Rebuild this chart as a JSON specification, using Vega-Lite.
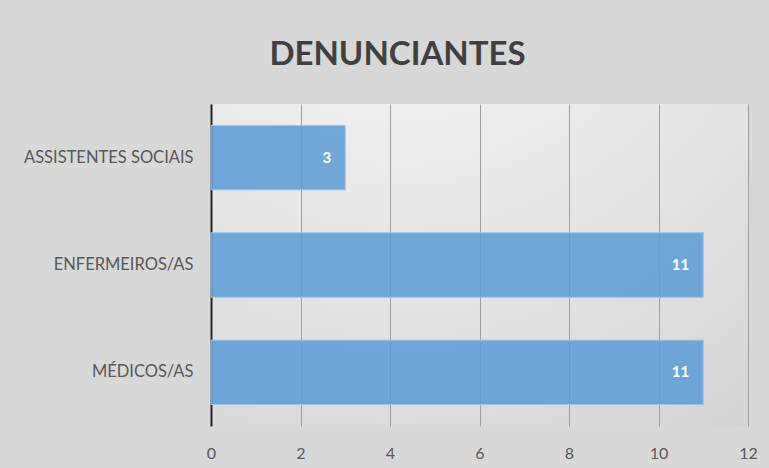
{
  "$schema": "https://vega.github.io/schema/vega-lite/v6.json",
  "width": 537,
  "height": 322,
  "autosize": {"type": "none"},
  "padding": {"left": 211, "top": 104, "right": 21, "bottom": 42},
  "background": "#d8d8d8",
  "title": {
    "text": "DENUNCIANTES",
    "font": "Lato",
    "fontSize": 33,
    "fontWeight": "bold",
    "color": "#404040",
    "anchor": "middle",
    "dx": -82,
    "offset": 32
  },
  "config": {
    "view": {
      "stroke": null,
      "fill": {
        "gradient": "radial",
        "x1": 0.35, "y1": -0.2, "r1": 0,
        "x2": 0.35, "y2": -0.2, "r2": 1.3,
        "stops": [
          {"offset": 0, "color": "#fbfbfb"},
          {"offset": 1, "color": "#d2d2d2"}
        ]
      }
    },
    "font": "Lato"
  },
  "data": {
    "values": [
      {"categoria": "ASSISTENTES SOCIAIS", "valor": 3},
      {"categoria": "ENFERMEIROS/AS", "valor": 11},
      {"categoria": "MÉDICOS/AS", "valor": 11}
    ]
  },
  "encoding": {
    "y": {
      "field": "categoria",
      "type": "nominal",
      "sort": null,
      "scale": {"paddingInner": 0.4, "paddingOuter": 0.2},
      "axis": {
        "title": null,
        "ticks": false,
        "domainColor": "#262626",
        "domainWidth": 2,
        "labelFont": "Lato",
        "labelFontSize": 16.5,
        "labelColor": "#595959",
        "labelPadding": 18,
        "labelLimit": 300,
        "grid": false
      }
    },
    "x": {
      "field": "valor",
      "type": "quantitative",
      "scale": {"domain": [0, 12], "nice": false},
      "axis": {
        "title": null,
        "values": [0, 2, 4, 6, 8, 10, 12],
        "domain": false,
        "ticks": false,
        "grid": true,
        "gridColor": "#a0a0a0",
        "gridWidth": 1,
        "labelFlush": false,
        "labelFont": "Lato",
        "labelFontSize": 16,
        "labelColor": "#595959",
        "labelPadding": 19
      }
    }
  },
  "layer": [
    {
      "mark": {
        "type": "bar",
        "fill": "#5b9bd5",
        "fillOpacity": 0.85,
        "stroke": "#9dc3e6",
        "strokeWidth": 1
      }
    },
    {
      "mark": {
        "type": "text",
        "align": "right",
        "baseline": "middle",
        "dx": -14,
        "font": "Lato",
        "fontSize": 15,
        "fontWeight": "bold",
        "color": "#ffffff"
      },
      "encoding": {"text": {"field": "valor", "type": "quantitative"}}
    }
  ]
}
